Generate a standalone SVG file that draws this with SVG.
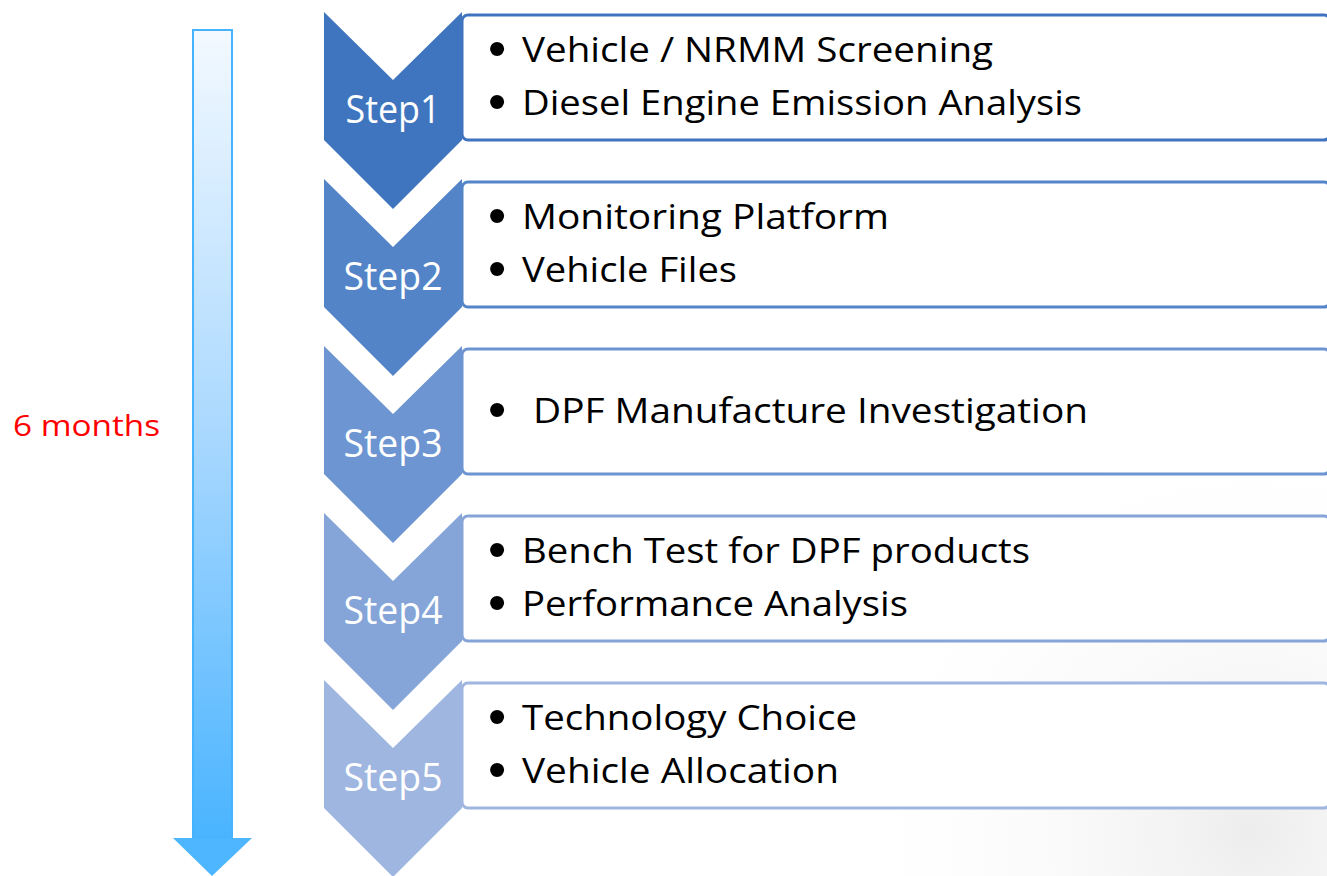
<svg xmlns="http://www.w3.org/2000/svg" width="1327" height="876" viewBox="0 0 1327 876">
<defs>
<linearGradient id="shaft" x1="0" y1="0" x2="0" y2="1">
<stop offset="0" stop-color="#F3F9FF"/>
<stop offset="0.5" stop-color="#A9D8FF"/>
<stop offset="1" stop-color="#4AB4FF"/>
</linearGradient>
<radialGradient id="bg" cx="1250" cy="830" r="420" gradientUnits="userSpaceOnUse">
<stop offset="0" stop-color="#EDEDED"/>
<stop offset="1" stop-color="#FFFFFF" stop-opacity="0"/>
</radialGradient>
<path id="chev" d="M0,0 L69,68 L138,0 L138,128 L69,197 L0,128 Z"/>
</defs>
<style>
.step{font-family:"Open Sans","Liberation Sans",sans-serif;font-size:38px;fill:#FFFFFF;text-anchor:middle}
.item{font-family:"Open Sans","Liberation Sans",sans-serif;font-size:34px;fill:#000000}
.bul{font-family:"Liberation Sans",Arial,sans-serif;font-size:52px}
.box{fill:#FFFFFF;stroke-width:3}
.note{font-family:"Open Sans","Liberation Sans",sans-serif;font-size:30px;fill:#FF0000}
</style>
<rect width="1327" height="876" fill="#FFFFFF"/>
<rect x="830" y="420" width="497" height="456" fill="url(#bg)"/>

<g id="connectors">
<g id="timeline">
<rect x="193" y="30" width="39" height="808" fill="url(#shaft)" stroke="#45B3FF" stroke-width="2"/>
<polygon points="173,838 252,838 212,876" fill="#4DB6FF"/>
</g>
</g>

<g id="duration">
<text class="note" x="13" y="436" textLength="147" lengthAdjust="spacingAndGlyphs">6 months</text>
</g>

<g id="step1">
<rect class="box" x="462" y="15" width="868" height="125" rx="6" stroke="#3F73BF"/>
<use href="#chev" x="324" y="12" fill="#3F75BF"/>
<text class="step" x="393" y="123" textLength="95" lengthAdjust="spacingAndGlyphs">Step1</text>
<text class="item"><tspan class="bul" x="488" y="66">•</tspan><tspan x="522" y="62" textLength="471" lengthAdjust="spacingAndGlyphs">Vehicle / NRMM Screening</tspan><tspan class="bul" x="488" y="119">•</tspan><tspan x="522" y="115" textLength="560" lengthAdjust="spacingAndGlyphs">Diesel Engine Emission Analysis</tspan></text>
</g>

<g id="step2">
<rect class="box" x="462" y="182" width="868" height="125" rx="6" stroke="#5485C9"/>
<use href="#chev" x="324" y="179" fill="#5384C8"/>
<text class="step" x="393" y="290" textLength="99" lengthAdjust="spacingAndGlyphs">Step2</text>
<text class="item"><tspan class="bul" x="488" y="233">•</tspan><tspan x="522" y="229" textLength="367" lengthAdjust="spacingAndGlyphs">Monitoring Platform</tspan><tspan class="bul" x="488" y="286">•</tspan><tspan x="522" y="282" textLength="215" lengthAdjust="spacingAndGlyphs">Vehicle Files</tspan></text>
</g>

<g id="step3">
<rect class="box" x="462" y="349" width="868" height="125" rx="6" stroke="#6C94D1"/>
<use href="#chev" x="324" y="346" fill="#6C95D1"/>
<text class="step" x="393" y="457" textLength="99" lengthAdjust="spacingAndGlyphs">Step3</text>
<text class="item"><tspan class="bul" x="488" y="427">•</tspan><tspan x="533" y="423" textLength="555" lengthAdjust="spacingAndGlyphs">DPF Manufacture Investigation</tspan></text>
</g>

<g id="step4">
<rect class="box" x="462" y="516" width="868" height="125" rx="6" stroke="#86A4D8"/>
<use href="#chev" x="324" y="513" fill="#85A5D8"/>
<text class="step" x="393" y="624" textLength="99" lengthAdjust="spacingAndGlyphs">Step4</text>
<text class="item"><tspan class="bul" x="488" y="567">•</tspan><tspan x="522" y="563" textLength="508" lengthAdjust="spacingAndGlyphs">Bench Test for DPF products</tspan><tspan class="bul" x="488" y="620">•</tspan><tspan x="522" y="616" textLength="386" lengthAdjust="spacingAndGlyphs">Performance Analysis</tspan></text>
</g>

<g id="step5">
<rect class="box" x="462" y="683" width="868" height="125" rx="6" stroke="#9FB6E0"/>
<use href="#chev" x="324" y="680" fill="#9EB6E0"/>
<text class="step" x="393" y="791" textLength="99" lengthAdjust="spacingAndGlyphs">Step5</text>
<text class="item"><tspan class="bul" x="488" y="734">•</tspan><tspan x="522" y="730" textLength="335" lengthAdjust="spacingAndGlyphs">Technology Choice</tspan><tspan class="bul" x="488" y="787">•</tspan><tspan x="522" y="783" textLength="317" lengthAdjust="spacingAndGlyphs">Vehicle Allocation</tspan></text>
</g>
</svg>
